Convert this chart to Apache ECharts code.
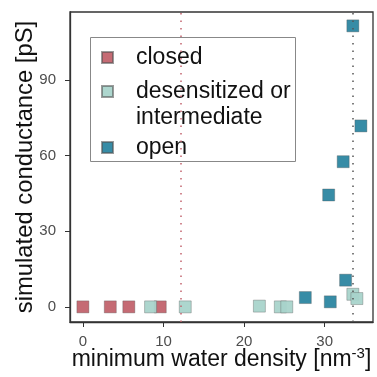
<!DOCTYPE html>
<html><head><meta charset="utf-8">
<script src="https://cdn.jsdelivr.net/npm/echarts@6/dist/echarts.min.js"></script>
<style>html,body{margin:0;padding:0;background:#fff}#c{width:377px;height:377px}</style>
</head><body><div id="c"></div>
<script>
const closedX=[0,3.4,5.7,9.6];
const closedY=[0,0,0,0];
const desensX=[8.4,12.7,21.9,24.5,25.3,33.5,34.0];
const desensY=[0,0,0.3,0,0,5.0,3.3];
const openX=[33.5,34.5,32.3,30.5,32.6,27.6,30.7];
const openY=[111.5,71.8,57.6,44.4,10.6,3.7,2.0];
const xTicks=[0,10,20,30];
const yTicks=[0,30,60,90];
const thresholdClosed=12.2, thresholdOpen=33.45;
const names=['closed','desensitized or\nintermediate','open'];
const colors=['#c2636d','#a9d4cb','#2c86a1'];

const zip=(xs,ys)=>xs.map((x,i)=>[x,ys[i]]);
const font='Liberation Sans, Arial, sans-serif';
const chart=echarts.init(document.getElementById('c'),null,{renderer:'canvas'});
const mk=(name,data,color,extra)=>Object.assign({
  type:'scatter',name,data,symbol:'rect',symbolSize:12,
  itemStyle:{color,borderColor:'rgba(80,80,80,0.6)',borderWidth:0.6,opacity:0.95},
  emphasis:{disabled:true}
},extra||{});
const legendBase={orient:'vertical',left:96,itemWidth:11,itemHeight:11,icon:'rect',
  selectedMode:false,
  textStyle:{fontFamily:font,fontSize:23,color:'#111',padding:[0,0,0,18],
    rich:{e:{fontSize:23,lineHeight:26},a:{fontFamily:font,fontSize:23,lineHeight:26,color:'#111'}}}};
chart.setOption({
  animation:false,
  grid:{left:70,right:4,top:12,bottom:55,show:true,borderColor:'#333',borderWidth:1.3,outerBoundsMode:'none',containLabel:false},
  xAxis:{type:'value',min:-1.6,max:36,
    name:'{a|minimum water density [nm}{s|-3}{a|]}',nameLocation:'middle',nameGap:24,nameMoveOverlap:false,
    nameTextStyle:{rich:{a:{fontFamily:font,fontSize:23,color:'#111'},s:{fontFamily:font,fontSize:15,color:'#111',verticalAlign:'top',padding:[0,0,12,0]}}},
    axisLine:{show:true,onZero:false,lineStyle:{color:'#333',width:1.3}},
    axisTick:{show:true,length:5,customValues:xTicks,lineStyle:{color:'#333'}},
    axisLabel:{customValues:xTicks,fontFamily:font,fontSize:15,color:'#4d4d4d',margin:12},
    splitLine:{show:false}},
  yAxis:{type:'value',min:-6,max:117,
    name:'simulated conductance [pS]',nameLocation:'middle',nameGap:33,nameMoveOverlap:false,
    nameTextStyle:{fontFamily:font,fontSize:23.8,color:'#111'},
    axisLine:{show:true,onZero:false,lineStyle:{color:'#333',width:1.3}},
    axisTick:{show:true,length:5,customValues:yTicks,lineStyle:{color:'#333'}},
    axisLabel:{customValues:yTicks,fontFamily:font,fontSize:15,color:'#4d4d4d',margin:14},
    splitLine:{show:false}},
  legend:[
    Object.assign({},legendBase,{top:41,data:[names[0]]}),
    Object.assign({},legendBase,{top:49,data:[names[1]],
      formatter:n=>'{e| }\n{a|desensitized or}\n{a|intermediate}'}),
    Object.assign({},legendBase,{top:131,data:[names[2]]})
  ],
  graphic:[{type:'rect',shape:{x:90.5,y:37.5,width:205,height:124},
    style:{fill:'none',stroke:'#888',lineWidth:1},z:1}],
  series:[
    mk(names[0],zip(closedX,closedY),colors[0],{
      markLine:{silent:true,symbol:'none',label:{show:false},
        lineStyle:{color:'#c2636d',type:[1.5,6],width:1.5},
        data:[{xAxis:thresholdClosed}]}}),
    mk(names[1],zip(desensX,desensY),colors[1],{
      markLine:{silent:true,symbol:'none',label:{show:false},
        lineStyle:{color:'#555',type:[1.5,6],width:1.5},
        data:[{xAxis:thresholdOpen}]}}),
    mk(names[2],zip(openX,openY),colors[2])
  ]
});
</script></body></html>
